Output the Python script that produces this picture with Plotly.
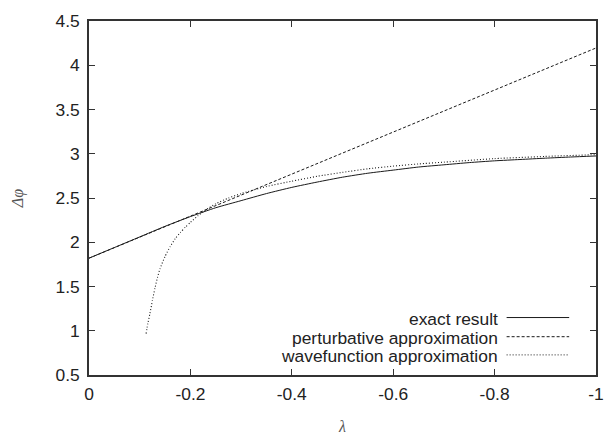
import plotly.graph_objects as go

# ---- data ----
lam_exact = [0, -0.05, -0.1, -0.15, -0.2, -0.25, -0.3, -0.35, -0.4, -0.45, -0.5,
             -0.55, -0.6, -0.65, -0.7, -0.75, -0.8, -0.85, -0.9, -0.95, -1.0]
exact = [1.82, 1.94, 2.06, 2.18, 2.29, 2.39, 2.47, 2.55, 2.62, 2.68, 2.735,
         2.78, 2.815, 2.85, 2.875, 2.90, 2.92, 2.935, 2.95, 2.963, 2.975]

lam_pert = [0, -1.0]
pert = [1.82, 4.195]

lam_wf = [-0.1126, -0.116, -0.12, -0.125, -0.13, -0.135, -0.14, -0.15, -0.16,
          -0.17, -0.18, -0.19, -0.20, -0.215, -0.23, -0.25, -0.275, -0.3,
          -0.35, -0.4, -0.45, -0.5, -0.55, -0.6, -0.65, -0.7, -0.8, -0.9, -1.0]
wf = [0.968, 1.08, 1.19, 1.34, 1.48, 1.60, 1.70, 1.84, 1.95,
      2.04, 2.11, 2.17, 2.225, 2.30, 2.365, 2.435, 2.50, 2.55,
      2.63, 2.69, 2.745, 2.79, 2.83, 2.86, 2.885, 2.905, 2.945, 2.97, 2.99]

x_ticks = [0, -0.2, -0.4, -0.6, -0.8, -1.0]
x_ticktext = ["0", "-0.2", "-0.4", "-0.6", "-0.8", "-1"]
y_ticks = [0.5, 1, 1.5, 2, 2.5, 3, 3.5, 4, 4.5]
y_ticktext = ["0.5", "1", "1.5", "2", "2.5", "3", "3.5", "4", "4.5"]

series_names = ["exact result", "perturbative approximation", "wavefunction approximation"]
dashes = ["solid", "3px,2px", "1px,2px"]

LINE = "#1a1a1a"
FONT = "Liberation Sans, Arial, sans-serif"
FS = 17.4

fig = go.Figure()
fig.add_trace(go.Scatter(x=lam_exact, y=exact, mode="lines", name=series_names[0],
                         line=dict(color=LINE, width=1, dash=dashes[0], shape="spline", smoothing=0.6)))
fig.add_trace(go.Scatter(x=lam_pert, y=pert, mode="lines", name=series_names[1],
                         line=dict(color=LINE, width=1, dash=dashes[1])))
fig.add_trace(go.Scatter(x=lam_wf, y=wf, mode="lines", name=series_names[2],
                         line=dict(color=LINE, width=1.1, dash=dashes[2], shape="spline", smoothing=0.5)))

# gnuplot-style legend: right-aligned text with sample line on its right
legend_y = [0.1583, 0.1042, 0.0528]
for name, dash, yy in zip(series_names, dashes, legend_y):
    fig.add_annotation(xref="paper", yref="paper", x=0.810, y=yy, text=name,
                       showarrow=False, xanchor="right", yanchor="middle",
                       font=dict(family=FONT, size=FS, color="#222"))
    fig.add_shape(type="line", xref="paper", yref="paper", x0=0.8237, x1=0.9471,
                  y0=yy + 0.004, y1=yy + 0.004, line=dict(color=LINE, width=1, dash=dash))

axis_common = dict(showline=True, linecolor="#333", linewidth=1.5, mirror="ticks",
                   ticks="inside", ticklen=6, tickcolor="#333", tickwidth=1,
                   showgrid=False, zeroline=False,
                   tickfont=dict(family=FONT, size=FS, color="#222"))

fig.update_xaxes(range=[0, -1.0], tickvals=x_ticks, ticktext=x_ticktext,
                 ticklabelstandoff=2,
                 title=dict(text="<i>λ</i>", font=dict(family="Liberation Serif, serif", size=16, color="#555"),
                            standoff=18),
                 **axis_common)
fig.update_yaxes(range=[0.5, 4.5], tickvals=y_ticks, ticktext=y_ticktext,
                 ticklabelstandoff=4,
                 title=dict(text="<i>Δφ</i>", font=dict(family="Liberation Serif, serif", size=16, color="#555"),
                            standoff=28),
                 **axis_common)

fig.update_layout(width=615, height=444, showlegend=False,
                  margin=dict(l=88.5, r=16, t=11, b=63.5),
                  plot_bgcolor="white", paper_bgcolor="white")

fig.write_html("out.html")
